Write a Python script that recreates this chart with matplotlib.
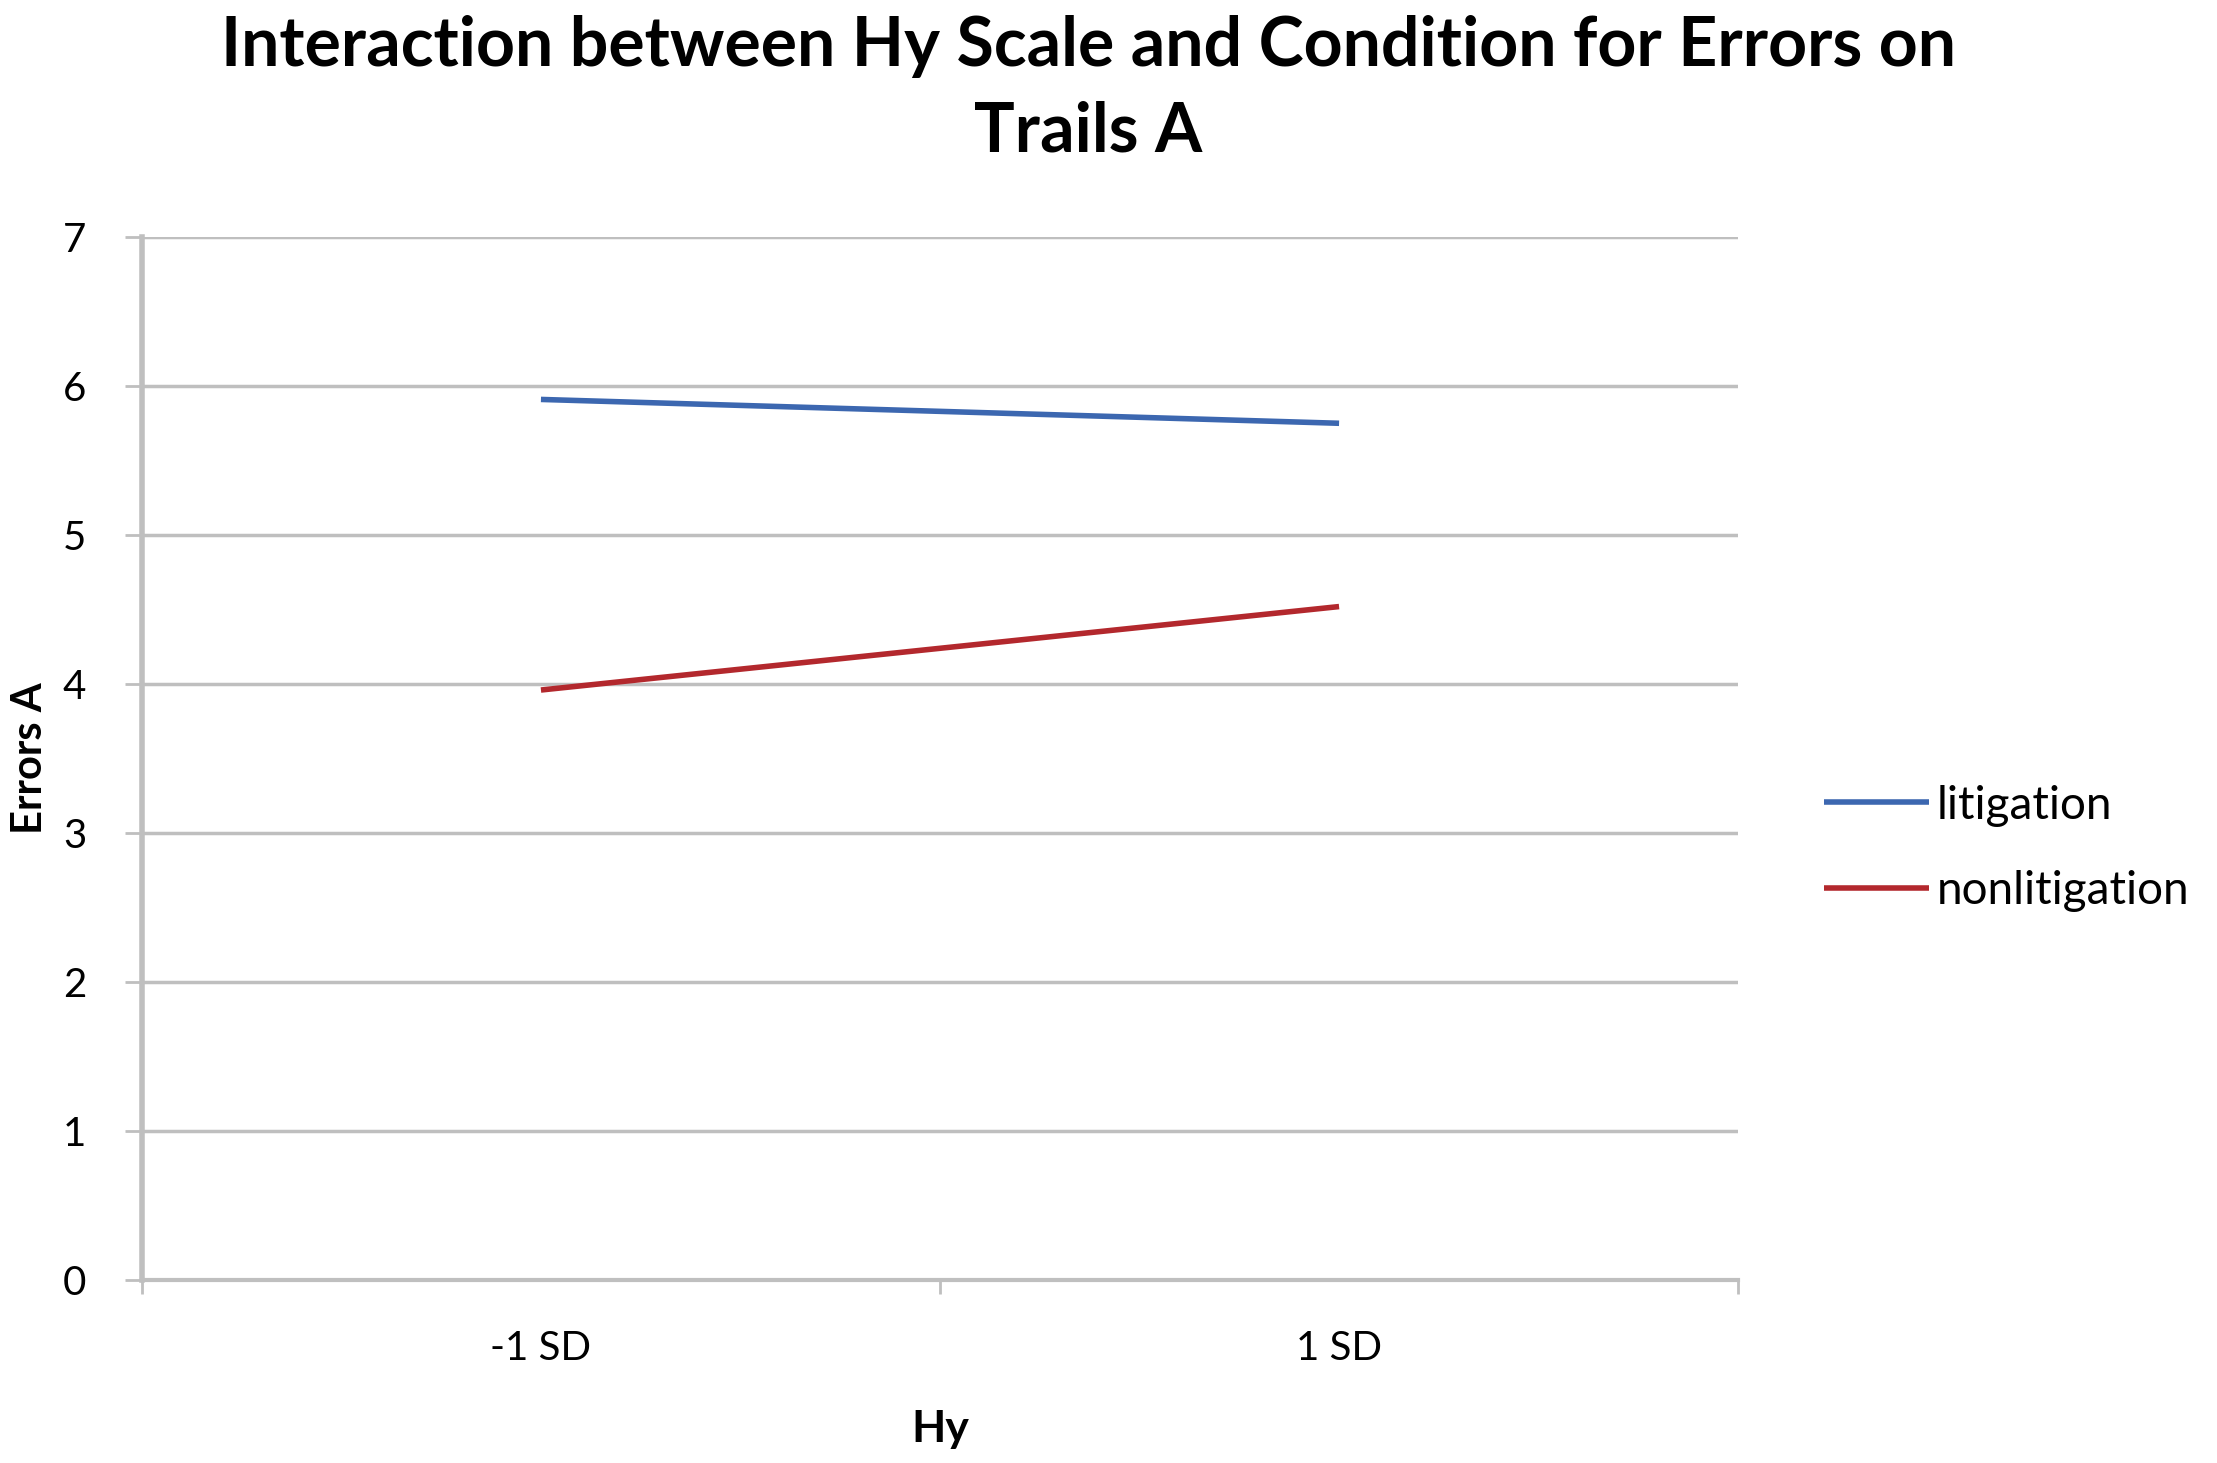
import matplotlib.pyplot as plt

categories = ["-1 SD", "1 SD"]
litigation = [5.91, 5.75]
nonlitigation = [3.96, 4.52]
series_names = ["litigation", "nonlitigation"]
y_ticks = [0, 1, 2, 3, 4, 5, 6, 7]

plt.rcParams['font.family'] = ['Lato', 'DejaVu Sans']

fig = plt.figure(figsize=(22.17, 14.63), dpi=100)
ax = fig.add_axes([0.064, 0.125, 0.72, 0.713])

xpos = [i + 0.5 for i in range(len(categories))]
ax.plot(xpos, litigation, color="#3C67B0", lw=4, label=series_names[0], solid_capstyle="butt")
ax.plot(xpos, nonlitigation, color="#B3282D", lw=4, label=series_names[1], solid_capstyle="butt")

ax.set_xlim(0, len(categories))
ax.set_ylim(0, 7)
ax.set_yticks(y_ticks)
ax.set_xticks(xpos)
ax.set_xticklabels(categories)
ax.set_xticks([0, 1, 2], minor=True)
ax.tick_params(axis="x", which="major", length=0, pad=36, labelsize=29)
ax.tick_params(axis="x", which="minor", length=10, width=2, color="#BFBFBF")
ax.tick_params(axis="y", length=12, width=2, color="#BFBFBF", pad=28, labelsize=29)

ax.grid(axis="y", color="#BFBFBF", lw=2.5)
ax.set_axisbelow(True)
for s in ["top", "right"]:
    ax.spines[s].set_visible(False)
ax.spines["left"].set_color("#BFBFBF")
ax.spines["left"].set_linewidth(4)
ax.spines["bottom"].set_color("#BFBFBF")
ax.spines["bottom"].set_linewidth(3)

ax.set_ylabel("Errors A", fontsize=30, fontweight="bold", labelpad=10)
ax.set_xlabel("Hy", fontsize=32, fontweight="bold", labelpad=30)

fig.suptitle("Interaction between Hy Scale and Condition for Errors on\nTrails A",
             x=0.491, y=0.99, fontsize=49, fontweight="bold", linespacing=1.45)

ax.legend(loc="center left", bbox_to_anchor=(1.028, 0.414), frameon=False,
          fontsize=33, handlelength=2.3, handletextpad=0.15, labelspacing=0.95)

fig.savefig("out.png", dpi=100)
